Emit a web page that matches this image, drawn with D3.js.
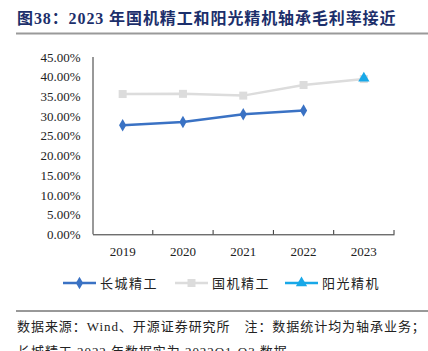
<!DOCTYPE html>
<html>
<head>
<meta charset="utf-8">
<script src="https://cdn.jsdelivr.net/npm/d3@7"></script>
<style>
  body { margin: 0; background: #fff; }
  svg { display: block; }
</style>
</head>
<body>
<div id="chart"></div>
<script>
// data
var years = ["2019", "2020", "2021", "2022", "2023"];
var changcheng = [27.7, 28.5, 30.45, 31.4, null];   // 长城精工
var guoji = [35.6, 35.65, 35.2, 37.9, 39.4];        // 国机精工
var yangguang = [null, null, null, null, 39.6];     // 阳光精机
var yTicks = [0, 5, 10, 15, 20, 25, 30, 35, 40, 45];

var w = 428, h = 351;
var svg = d3.select("#chart").append("svg").attr("width", w).attr("height", h);

var serif = "'Times New Roman', 'Liberation Serif', 'Noto Serif CJK SC', serif";
var cjk = "'Noto Sans CJK SC', sans-serif";
var mixed = "'Liberation Serif', 'Noto Sans CJK SC', serif";

// title
svg.append("text")
    .attr("x", 17)
    .attr("y", 24)
    .style("font-family", mixed)
    .style("font-weight", "bold")
    .style("font-size", "16px")
    .style("letter-spacing", "0.9px")
    .style("fill", "#1c2f6b")
    .text("图38：2023 年国机精工和阳光精机轴承毛利率接近");

svg.append("line")
    .attr("x1", 16).attr("x2", w)
    .attr("y1", 33.5).attr("y2", 33.5)
    .style("stroke", "#9a9a9a")
    .style("stroke-width", 2);

// scales
var xScale = d3.scaleBand().domain(years).range([92.5, 394]);
var yScale = d3.scaleLinear().domain([0, 45]).range([234.3, 57]);

// y axis
var yAxis = svg.append("g")
    .attr("transform", "translate(92.5,0)")
    .call(d3.axisLeft(yScale).tickValues(yTicks).tickSize(0)
        .tickFormat(d => d.toFixed(2) + "%"));
yAxis.select(".domain").style("stroke", "#333").attr("d", "M0.5,57V234.3");
yAxis.selectAll("text")
    .attr("x", -12)
    .style("font-family", serif)
    .style("font-size", "13px")
    .style("fill", "#222");

// x axis
var xAxis = svg.append("g")
    .attr("transform", "translate(0,234.3)")
    .call(d3.axisBottom(xScale).tickSize(0));
xAxis.select(".domain").style("stroke", "#333");
xAxis.selectAll("text")
    .attr("dy", "0")
    .attr("y", 22)
    .style("font-family", serif)
    .style("font-size", "13px")
    .style("fill", "#222");
// ticks between categories
svg.append("g").selectAll("line")
    .data(years)
    .enter().append("line")
    .attr("x1", d => xScale(d) + xScale.bandwidth())
    .attr("x2", d => xScale(d) + xScale.bandwidth())
    .attr("y1", 234.3).attr("y2", 230)
    .style("stroke", "#333");

var cx = d => xScale(d) + xScale.bandwidth() / 2;

function drawSeries(values, color, marker, cls) {
    var pts = years.map((y, i) => ({ year: y, v: values[i] })).filter(d => d.v != null);
    var line = d3.line().x(d => cx(d.year)).y(d => yScale(d.v));
    svg.append("path")
        .datum(pts)
        .attr("class", "line " + cls)
        .attr("d", line)
        .style("fill", "none")
        .style("stroke", color)
        .style("stroke-width", 2.5);
    svg.selectAll(".mk-" + cls)
        .data(pts)
        .enter().append("path")
        .attr("class", "mk-" + cls)
        .attr("transform", d => `translate(${cx(d.year)},${yScale(d.v)})`)
        .attr("d", marker)
        .style("fill", color);
}

var diamond = d3.symbol().type(d3.symbolDiamond).size(45)();
var square = d3.symbol().type(d3.symbolSquare).size(64)();
var triangle = d3.symbol().type(d3.symbolTriangle).size(55)();

drawSeries(guoji, "#dcdcdc", square, "guoji");
drawSeries(changcheng, "#3a72c4", diamond, "cc");
drawSeries(yangguang, "#18a8e8", triangle, "yg");

// legend
var legendData = [
    { label: "长城精工", color: "#3a72c4", marker: diamond, x: 63 },
    { label: "国机精工", color: "#dcdcdc", marker: square, x: 175 },
    { label: "阳光精机", color: "#18a8e8", marker: triangle, x: 285 }
];
var legend = svg.append("g").attr("class", "legend");
var item = legend.selectAll(".legend-item")
    .data(legendData)
    .enter().append("g")
    .attr("class", "legend-item")
    .attr("transform", d => `translate(${d.x},283)`);
item.append("line")
    .attr("x1", 0).attr("x2", 33)
    .style("stroke", d => d.color)
    .style("stroke-width", 2.5);
item.append("path")
    .attr("transform", "translate(16.5,0)")
    .attr("d", d => d.marker)
    .style("fill", d => d.color);
item.append("text")
    .attr("x", 37)
    .attr("y", 5)
    .style("font-family", cjk)
    .style("font-size", "13px")
    .style("letter-spacing", "1.5px")
    .style("fill", "#222")
    .text(d => d.label);

// footer
svg.append("line")
    .attr("x1", 16).attr("x2", w)
    .attr("y1", 311).attr("y2", 311)
    .style("stroke", "#333")
    .style("stroke-width", 1);
svg.append("text")
    .attr("x", 17)
    .attr("y", 331)
    .style("font-family", mixed)
    .style("font-size", "13px")
    .style("letter-spacing", "0.95px")
    .style("fill", "#222")
    .text("数据来源：Wind、开源证券研究所　注：数据统计均为轴承业务；");
svg.append("text")
    .attr("x", 17)
    .attr("y", 356)
    .style("font-family", mixed)
    .style("font-size", "13px")
    .style("letter-spacing", "0.95px")
    .style("fill", "#222")
    .text("长城精工 2022 年数据实为 2022Q1-Q3 数据");
</script>
</body>
</html>
